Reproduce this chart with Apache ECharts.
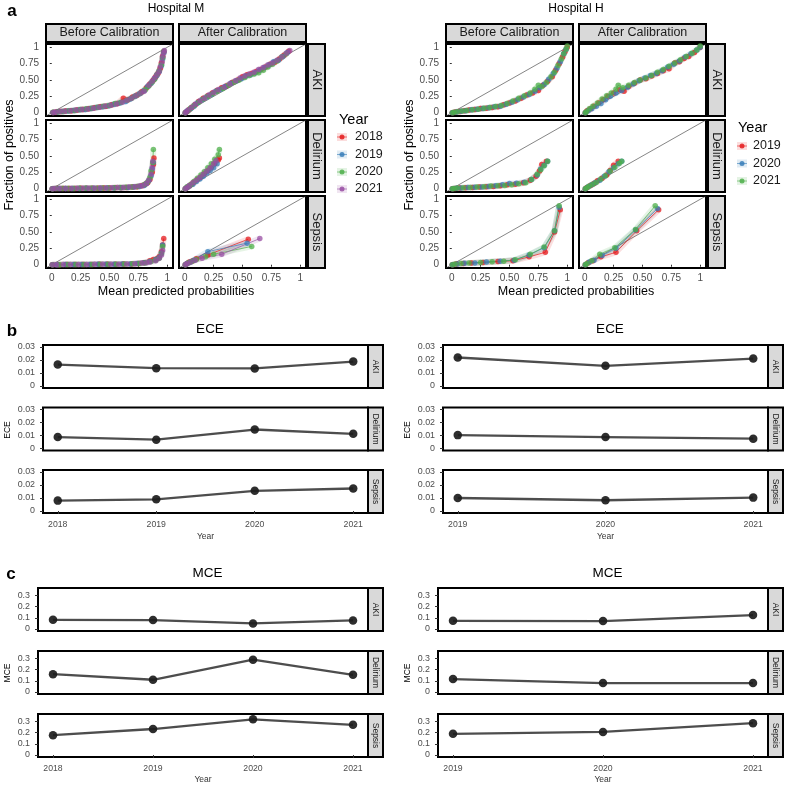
<!DOCTYPE html>
<html><head><meta charset="utf-8">
<script src="https://cdn.jsdelivr.net/npm/echarts@6/dist/echarts.min.js"></script>
<style>html,body{margin:0;padding:0;background:#fff}#c{width:800px;height:800px}</style>
</head><body><div id="c"></div>
<script>
// ---------------- DATA ----------------
const conditions = ['AKI', 'Delirium', 'Sepsis'];
const stages = ['Before Calibration', 'After Calibration'];
const yearsM = [2018, 2019, 2020, 2021];
const yearsH = [2019, 2020, 2021];
const colorsM = ['#E41A1C', '#377EB8', '#4DAF4A', '#984EA3'];
const colorsH = ['#E41A1C', '#377EB8', '#4DAF4A'];
const calTicks = [0, 0.25, 0.5, 0.75, 1];
const calTickLabels = ['0', '0.25', '0.50', '0.75', '1'];
const eceTicks = [0, 0.01, 0.02, 0.03];
const eceTickLabels = ['0', '0.01', '0.02', '0.03'];
const mceTicks = [0, 0.1, 0.2, 0.3];
const mceTickLabels = ['0', '0.1', '0.2', '0.3'];

// Hospital M calibration curves [mean predicted, fraction positive]
const mAkiBefore2018 = [[0.01,0.005],[0.04,0.01],[0.08,0.02],[0.12,0.025],[0.17,0.03],[0.22,0.04],[0.27,0.05],[0.32,0.06],[0.37,0.075],[0.42,0.09],[0.47,0.1],[0.52,0.12],[0.57,0.14],[0.62,0.22],[0.66,0.2],[0.7,0.24],[0.74,0.27],[0.78,0.32],[0.82,0.38],[0.85,0.44],[0.88,0.5],[0.9,0.55],[0.92,0.6],[0.94,0.68],[0.95,0.76],[0.96,0.86],[0.97,0.93]];
const mAkiBefore2019 = [[0.01,0.005],[0.05,0.012],[0.09,0.018],[0.14,0.028],[0.19,0.033],[0.24,0.045],[0.29,0.05],[0.34,0.065],[0.39,0.08],[0.44,0.09],[0.49,0.105],[0.54,0.13],[0.59,0.15],[0.64,0.17],[0.68,0.21],[0.72,0.25],[0.76,0.29],[0.8,0.34],[0.83,0.4],[0.86,0.45],[0.89,0.52],[0.91,0.57],[0.93,0.63],[0.95,0.72],[0.96,0.83],[0.97,0.92]];
const mAkiBefore2020 = [[0.01,0.006],[0.06,0.015],[0.1,0.02],[0.15,0.03],[0.2,0.035],[0.25,0.05],[0.3,0.06],[0.35,0.07],[0.4,0.085],[0.45,0.1],[0.5,0.11],[0.55,0.14],[0.6,0.16],[0.65,0.19],[0.69,0.22],[0.73,0.26],[0.77,0.3],[0.81,0.35],[0.84,0.41],[0.87,0.47],[0.89,0.51],[0.91,0.58],[0.93,0.64],[0.95,0.73],[0.96,0.84],[0.97,0.94]];
const mAkiBefore2021 = [[0.01,0.005],[0.03,0.01],[0.07,0.018],[0.11,0.024],[0.16,0.03],[0.21,0.04],[0.26,0.048],[0.31,0.058],[0.36,0.07],[0.41,0.085],[0.46,0.1],[0.51,0.115],[0.56,0.135],[0.61,0.16],[0.65,0.19],[0.69,0.22],[0.73,0.26],[0.77,0.3],[0.8,0.33],[0.84,0.42],[0.87,0.48],[0.89,0.53],[0.91,0.58],[0.93,0.63],[0.94,0.7],[0.955,0.78],[0.96,0.86],[0.97,0.92],[0.975,0.95]];
const mAkiAfter2018 = [[0.005,0],[0.02,0.02],[0.04,0.05],[0.06,0.08],[0.09,0.12],[0.12,0.17],[0.16,0.22],[0.2,0.26],[0.24,0.3],[0.28,0.34],[0.32,0.38],[0.36,0.41],[0.41,0.46],[0.46,0.5],[0.5,0.55],[0.54,0.58],[0.58,0.6],[0.62,0.63],[0.66,0.66],[0.7,0.7],[0.74,0.74],[0.78,0.77],[0.82,0.82],[0.86,0.88],[0.9,0.94]];
const mAkiAfter2019 = [[0.005,0],[0.02,0.025],[0.05,0.06],[0.08,0.1],[0.11,0.15],[0.15,0.2],[0.19,0.24],[0.23,0.28],[0.27,0.33],[0.31,0.36],[0.35,0.4],[0.4,0.45],[0.45,0.49],[0.49,0.52],[0.53,0.56],[0.57,0.58],[0.61,0.61],[0.65,0.65],[0.69,0.69],[0.73,0.73],[0.77,0.78],[0.81,0.8],[0.85,0.86],[0.89,0.92]];
const mAkiAfter2020 = [[0.005,0],[0.03,0.03],[0.05,0.07],[0.08,0.11],[0.12,0.16],[0.16,0.21],[0.2,0.25],[0.24,0.29],[0.28,0.33],[0.33,0.37],[0.38,0.42],[0.43,0.47],[0.47,0.5],[0.52,0.54],[0.56,0.57],[0.6,0.59],[0.64,0.61],[0.68,0.65],[0.72,0.7],[0.76,0.74],[0.8,0.79],[0.84,0.85],[0.88,0.9]];
const mAkiAfter2021 = [[0.005,0],[0.015,0.015],[0.03,0.04],[0.06,0.08],[0.09,0.13],[0.13,0.18],[0.17,0.22],[0.21,0.27],[0.25,0.31],[0.29,0.35],[0.34,0.39],[0.39,0.44],[0.44,0.49],[0.48,0.53],[0.52,0.56],[0.56,0.59],[0.6,0.62],[0.64,0.66],[0.68,0.69],[0.72,0.73],[0.76,0.76],[0.8,0.8],[0.84,0.85],[0.88,0.91],[0.91,0.95]];
const mDelBefore2018 = [[0.005,0],[0.05,0.002],[0.1,0.003],[0.15,0.004],[0.2,0.005],[0.25,0.006],[0.3,0.007],[0.35,0.008],[0.4,0.009],[0.45,0.01],[0.5,0.012],[0.55,0.014],[0.6,0.016],[0.65,0.02],[0.7,0.025],[0.74,0.03],[0.78,0.045],[0.81,0.07],[0.83,0.09],[0.85,0.14],[0.87,0.25],[0.88,0.37],[0.885,0.47]];
const mDelBefore2019 = [[0.005,0],[0.06,0.002],[0.12,0.003],[0.18,0.004],[0.24,0.005],[0.3,0.006],[0.36,0.007],[0.42,0.009],[0.48,0.01],[0.54,0.012],[0.6,0.015],[0.66,0.02],[0.71,0.025],[0.76,0.035],[0.8,0.05],[0.82,0.08],[0.84,0.12],[0.86,0.2],[0.87,0.3],[0.88,0.4]];
const mDelBefore2020 = [[0.005,0],[0.04,0.002],[0.09,0.003],[0.14,0.004],[0.19,0.005],[0.24,0.006],[0.29,0.007],[0.34,0.008],[0.39,0.009],[0.44,0.011],[0.49,0.013],[0.54,0.015],[0.59,0.018],[0.64,0.022],[0.69,0.027],[0.74,0.035],[0.8,0.06],[0.83,0.1],[0.85,0.17],[0.86,0.27],[0.875,0.4],[0.88,0.6]];
const mDelBefore2021 = [[0.005,0],[0.03,0.002],[0.07,0.003],[0.12,0.004],[0.17,0.005],[0.22,0.006],[0.27,0.007],[0.32,0.008],[0.37,0.009],[0.42,0.01],[0.47,0.012],[0.52,0.014],[0.57,0.017],[0.62,0.02],[0.67,0.025],[0.72,0.03],[0.76,0.04],[0.79,0.05],[0.82,0.08],[0.84,0.13],[0.86,0.22],[0.87,0.32],[0.875,0.42]];
const mDelAfter2018 = [[0.005,0],[0.02,0.02],[0.04,0.04],[0.06,0.07],[0.08,0.1],[0.11,0.14],[0.14,0.18],[0.17,0.23],[0.2,0.27],[0.23,0.32],[0.26,0.38],[0.29,0.44],[0.3,0.47]];
const mDelAfter2019 = [[0.005,0],[0.02,0.02],[0.04,0.04],[0.07,0.07],[0.1,0.11],[0.13,0.15],[0.16,0.19],[0.19,0.24],[0.22,0.28],[0.25,0.32],[0.28,0.38]];
const mDelAfter2020 = [[0.005,0],[0.02,0.03],[0.05,0.06],[0.08,0.11],[0.11,0.16],[0.14,0.21],[0.17,0.26],[0.2,0.32],[0.23,0.38],[0.26,0.45],[0.29,0.52],[0.3,0.6]];
const mDelAfter2021 = [[0.005,0],[0.02,0.02],[0.04,0.05],[0.07,0.09],[0.1,0.13],[0.13,0.17],[0.16,0.22],[0.19,0.27],[0.22,0.32],[0.25,0.38],[0.27,0.43]];
const mSepBefore2018 = [[0.005,0],[0.06,0.001],[0.13,0.002],[0.2,0.003],[0.27,0.004],[0.34,0.005],[0.41,0.006],[0.48,0.007],[0.55,0.008],[0.62,0.01],[0.69,0.013],[0.75,0.02],[0.8,0.03],[0.85,0.06],[0.88,0.08],[0.91,0.09],[0.93,0.12],[0.95,0.2],[0.96,0.3],[0.97,0.4]];
const mSepBefore2019 = [[0.005,0],[0.05,0.001],[0.12,0.002],[0.19,0.003],[0.26,0.004],[0.33,0.005],[0.4,0.006],[0.47,0.007],[0.54,0.008],[0.61,0.01],[0.68,0.012],[0.74,0.018],[0.8,0.03],[0.85,0.05],[0.9,0.08],[0.93,0.11],[0.95,0.18],[0.96,0.3]];
const mSepBefore2020 = [[0.005,0],[0.07,0.001],[0.14,0.002],[0.21,0.003],[0.28,0.004],[0.35,0.005],[0.42,0.006],[0.49,0.007],[0.56,0.008],[0.63,0.01],[0.7,0.014],[0.76,0.02],[0.81,0.03],[0.86,0.05],[0.9,0.07],[0.93,0.1],[0.95,0.17],[0.96,0.28]];
const mSepBefore2021 = [[0.005,0],[0.04,0.001],[0.1,0.002],[0.16,0.003],[0.23,0.004],[0.3,0.005],[0.37,0.006],[0.44,0.007],[0.51,0.008],[0.58,0.009],[0.65,0.011],[0.72,0.016],[0.78,0.025],[0.82,0.03],[0.85,0.04],[0.9,0.06],[0.93,0.1],[0.95,0.15],[0.96,0.22]];
const mSepAfter2018 = [[0.005,0],[0.02,0.02],[0.04,0.04],[0.07,0.06],[0.1,0.09],[0.2,0.15],[0.55,0.39]];
const mSepAfter2019 = [[0.005,0],[0.02,0.02],[0.05,0.04],[0.08,0.07],[0.2,0.2],[0.54,0.33]];
const mSepAfter2020 = [[0.005,0],[0.03,0.03],[0.06,0.05],[0.1,0.08],[0.18,0.12],[0.25,0.16],[0.58,0.28]];
const mSepAfter2021 = [[0.005,0],[0.02,0.02],[0.05,0.04],[0.09,0.07],[0.15,0.1],[0.32,0.16],[0.65,0.4]];

// Hospital H calibration curves
const hAkiBefore2019 = [[0.005,0],[0.03,0.01],[0.07,0.02],[0.11,0.03],[0.15,0.04],[0.2,0.05],[0.25,0.065],[0.3,0.07],[0.35,0.08],[0.4,0.09],[0.45,0.12],[0.5,0.15],[0.55,0.18],[0.6,0.22],[0.65,0.27],[0.7,0.3],[0.75,0.34],[0.79,0.42],[0.83,0.48],[0.87,0.55],[0.9,0.65],[0.93,0.75],[0.96,0.85],[0.98,0.93],[1.0,1.0]];
const hAkiBefore2020 = [[0.005,0],[0.04,0.012],[0.08,0.022],[0.12,0.032],[0.17,0.045],[0.22,0.055],[0.27,0.065],[0.32,0.075],[0.37,0.09],[0.42,0.1],[0.47,0.13],[0.52,0.16],[0.57,0.2],[0.62,0.24],[0.67,0.28],[0.72,0.33],[0.76,0.38],[0.8,0.43],[0.84,0.51],[0.88,0.6],[0.91,0.68],[0.94,0.78],[0.97,0.9],[0.99,0.97]];
const hAkiBefore2021 = [[0.005,0],[0.02,0.008],[0.05,0.015],[0.09,0.025],[0.13,0.035],[0.18,0.045],[0.23,0.055],[0.28,0.07],[0.33,0.08],[0.38,0.095],[0.43,0.11],[0.48,0.14],[0.53,0.18],[0.58,0.22],[0.63,0.26],[0.68,0.3],[0.72,0.36],[0.75,0.42],[0.78,0.4],[0.82,0.46],[0.86,0.55],[0.89,0.62],[0.92,0.72],[0.95,0.82],[0.97,0.9],[0.99,0.97],[1.0,1.02]];
const hAkiAfter2019 = [[0.005,0],[0.02,0.03],[0.05,0.06],[0.08,0.1],[0.12,0.15],[0.16,0.2],[0.2,0.25],[0.25,0.3],[0.3,0.35],[0.34,0.33],[0.38,0.4],[0.43,0.45],[0.48,0.5],[0.53,0.52],[0.58,0.56],[0.63,0.6],[0.68,0.64],[0.73,0.67],[0.78,0.76],[0.82,0.78],[0.86,0.83],[0.9,0.86],[0.95,0.92],[1.0,1.0]];
const hAkiAfter2020 = [[0.005,0],[0.03,0.03],[0.06,0.06],[0.1,0.1],[0.14,0.14],[0.18,0.2],[0.22,0.25],[0.27,0.3],[0.32,0.34],[0.37,0.39],[0.42,0.44],[0.47,0.49],[0.52,0.53],[0.57,0.57],[0.62,0.6],[0.67,0.64],[0.72,0.7],[0.77,0.74],[0.82,0.79],[0.87,0.85],[0.92,0.9],[0.97,0.96],[1.0,1.0]];
const hAkiAfter2021 = [[0.005,0],[0.015,0.02],[0.04,0.06],[0.07,0.1],[0.11,0.15],[0.15,0.21],[0.19,0.26],[0.23,0.3],[0.27,0.36],[0.29,0.42],[0.33,0.38],[0.38,0.42],[0.43,0.46],[0.48,0.5],[0.53,0.53],[0.58,0.57],[0.63,0.62],[0.68,0.66],[0.73,0.71],[0.78,0.76],[0.83,0.81],[0.88,0.86],[0.93,0.91],[0.97,0.96],[1.0,1.02]];
const hDelBefore2019 = [[0.005,0],[0.03,0.005],[0.07,0.01],[0.12,0.015],[0.18,0.02],[0.24,0.025],[0.3,0.03],[0.36,0.035],[0.42,0.045],[0.48,0.06],[0.55,0.07],[0.62,0.09],[0.68,0.13],[0.73,0.19],[0.76,0.27],[0.78,0.37],[0.82,0.42]];
const hDelBefore2020 = [[0.005,0],[0.04,0.006],[0.08,0.012],[0.14,0.017],[0.2,0.022],[0.26,0.027],[0.32,0.033],[0.38,0.045],[0.44,0.06],[0.5,0.08],[0.56,0.085],[0.63,0.1],[0.69,0.14],[0.74,0.21],[0.77,0.3],[0.8,0.36],[0.83,0.42]];
const hDelBefore2021 = [[0.005,0],[0.02,0.005],[0.05,0.01],[0.1,0.015],[0.16,0.02],[0.22,0.027],[0.28,0.032],[0.34,0.04],[0.4,0.045],[0.46,0.05],[0.52,0.06],[0.58,0.075],[0.64,0.09],[0.69,0.14],[0.74,0.22],[0.77,0.29],[0.8,0.35],[0.83,0.42]];
const hDelAfter2019 = [[0.005,0],[0.02,0.02],[0.05,0.05],[0.08,0.08],[0.11,0.12],[0.15,0.16],[0.19,0.21],[0.22,0.28],[0.25,0.36],[0.29,0.42]];
const hDelAfter2020 = [[0.005,0],[0.03,0.03],[0.06,0.06],[0.09,0.09],[0.13,0.13],[0.17,0.19],[0.21,0.26],[0.25,0.32],[0.29,0.38],[0.32,0.42]];
const hDelAfter2021 = [[0.005,0],[0.02,0.02],[0.04,0.04],[0.07,0.07],[0.1,0.1],[0.14,0.15],[0.18,0.2],[0.22,0.27],[0.26,0.33],[0.3,0.39],[0.32,0.42]];
const hSepBefore2019 = [[0.005,0],[0.04,0.01],[0.1,0.02],[0.17,0.025],[0.27,0.035],[0.4,0.05],[0.53,0.06],[0.67,0.12],[0.81,0.19],[0.89,0.5],[0.94,0.84]];
const hSepBefore2020 = [[0.005,0],[0.05,0.012],[0.11,0.022],[0.2,0.028],[0.3,0.04],[0.42,0.055],[0.54,0.07],[0.67,0.15],[0.8,0.26],[0.89,0.52],[0.93,0.88]];
const hSepBefore2021 = [[0.005,0],[0.03,0.01],[0.08,0.02],[0.15,0.025],[0.25,0.035],[0.35,0.045],[0.45,0.055],[0.55,0.075],[0.68,0.16],[0.8,0.27],[0.89,0.52],[0.93,0.9]];
const hSepAfter2019 = [[0.005,0],[0.03,0.03],[0.07,0.06],[0.14,0.12],[0.27,0.19],[0.45,0.52],[0.64,0.84]];
const hSepAfter2020 = [[0.005,0],[0.04,0.04],[0.08,0.07],[0.15,0.14],[0.27,0.25],[0.44,0.53],[0.63,0.86]];
const hSepAfter2021 = [[0.005,0],[0.02,0.02],[0.06,0.06],[0.13,0.16],[0.26,0.26],[0.44,0.54],[0.61,0.9]];

// ECE / MCE by year
const eceM_AKI = [0.0165, 0.0137, 0.0135, 0.0188];
const eceM_Delirium = [0.0088, 0.0068, 0.0146, 0.0113];
const eceM_Sepsis = [0.0080, 0.0090, 0.0155, 0.0173];
const eceH_AKI = [0.0219, 0.0155, 0.0211];
const eceH_Delirium = [0.0103, 0.0088, 0.0076];
const eceH_Sepsis = [0.0100, 0.0083, 0.0103];
const mceM_AKI = [0.083, 0.080, 0.050, 0.077];
const mceM_Delirium = [0.160, 0.110, 0.290, 0.154];
const mceM_Sepsis = [0.178, 0.233, 0.320, 0.271];
const mceH_AKI = [0.074, 0.071, 0.125];
const mceH_Delirium = [0.116, 0.080, 0.080];
const mceH_Sepsis = [0.190, 0.207, 0.285];

// ---------------- BUILD ----------------
const FONT = 'Liberation Sans';
const AXC = '#4d4d4d';
const grids = [], xAxes = [], yAxes = [], series = [], graphics = [];

function addGrid(l, t, w, h) {
  grids.push({left: l, top: t, width: w, height: h, show: true, borderColor: '#000', borderWidth: 2, backgroundColor: '#fff'});
  return grids.length - 1;
}
function txt(x, y, text, size, opts) {
  opts = opts || {};
  graphics.push({type: 'text', x: x, y: y, rotation: opts.rot || 0, z: 100,
    style: {text: text, fontSize: size, fontFamily: FONT, fontWeight: opts.bold ? 'bold' : 'normal',
      fill: opts.color || '#000', align: opts.align || 'center', verticalAlign: 'middle'}});
}
function strip(x, y, w, h, text, size, vertical) {
  graphics.push({type: 'rect', z: 90, shape: {x: x, y: y, width: w, height: h},
    style: {fill: '#d9d9d9', stroke: '#000', lineWidth: 2}});
  txt(x + w / 2, y + h / 2, text, size, {rot: vertical ? -Math.PI / 2 : 0, color: '#1a1a1a'});
}
function labFmt(ticks, labels) {
  return function (v) { for (let i = 0; i < ticks.length; i++) if (Math.abs(ticks[i] - v) < 1e-9) return labels[i]; return ''; };
}

function calibrationBlock(ox, hospital, years, colors, data) {
  const lefts = [ox + 46, ox + 179];
  const tops = [44, 120, 196];
  const W = 127, H = 72;
  for (let r = 0; r < 3; r++) {
    for (let c = 0; c < 2; c++) {
      const gi = addGrid(lefts[c], tops[r], W, H);
      xAxes.push({type: 'value', gridIndex: gi, min: -0.05, max: 1.05,
        axisLine: {show: false}, splitLine: {show: false},
        axisTick: {show: r === 2, customValues: calTicks, length: 2, lineStyle: {color: '#333'}},
        axisLabel: {show: r === 2, customValues: calTicks, formatter: labFmt(calTicks, calTickLabels),
          fontSize: 10, fontFamily: FONT, color: AXC, margin: 5}});
      yAxes.push({type: 'value', gridIndex: gi, min: -0.05, max: 1.05,
        axisLine: {show: false}, splitLine: {show: false},
        axisTick: {show: c === 0, customValues: calTicks, length: 2, lineStyle: {color: '#333'}},
        axisLabel: {show: c === 0, customValues: calTicks, formatter: labFmt(calTicks, calTickLabels),
          fontSize: 10, fontFamily: FONT, color: AXC, margin: 7}});
      series.push({type: 'line', xAxisIndex: gi, yAxisIndex: gi, data: [[-0.05, -0.05], [1.05, 1.05]],
        symbol: 'none', silent: true, lineStyle: {color: '#333', width: 0.6}, z: 1});
      const sets = data[r][c];
      for (let k = 0; k < years.length; k++) {
        series.push({type: 'line', xAxisIndex: gi, yAxisIndex: gi, data: sets[k], symbol: 'none', silent: true,
          lineStyle: {color: colors[k], width: 6, opacity: 0.14}, z: 2});
      }
      for (let k = 0; k < years.length; k++) {
        series.push({type: 'line', name: String(years[k]), xAxisIndex: gi, yAxisIndex: gi, data: sets[k],
          symbol: 'circle', symbolSize: 5.5, showSymbol: true,
          itemStyle: {color: colors[k], opacity: 0.75}, lineStyle: {color: colors[k], width: 1, opacity: 0.7}, z: 3});
      }
    }
  }
  strip(lefts[0], 24, W, 18, stages[0], 12.5, false);
  strip(lefts[1], 24, W, 18, stages[1], 12.5, false);
  for (let r = 0; r < 3; r++) strip(ox + 308, tops[r], 17, H, conditions[r], 13, true);
  txt(ox + 176, 9, hospital, 12);
  txt(ox + 10, 155, 'Fraction of positives', 12.5, {rot: Math.PI / 2});
  txt(ox + 176, 292, 'Mean predicted probabilities', 12.5);
}

function legendBlock(x, yTitle, ys, years, colors, keyX, labX) {
  txt(x, yTitle, 'Year', 14.5, {align: 'left'});
  for (let k = 0; k < years.length; k++) {
    graphics.push({type: 'rect', z: 95, shape: {x: keyX - 5, y: ys[k] - 4, width: 10, height: 8},
      style: {fill: colors[k], opacity: 0.15}});
    graphics.push({type: 'line', z: 96, shape: {x1: keyX - 5, y1: ys[k], x2: keyX + 5, y2: ys[k]},
      style: {stroke: colors[k], lineWidth: 1, opacity: 0.6}});
    graphics.push({type: 'circle', z: 97, shape: {cx: keyX, cy: ys[k], r: 2.5}, style: {fill: colors[k], opacity: 0.85}});
    txt(labX, ys[k], String(years[k]), 12.5, {align: 'left', color: '#1a1a1a'});
  }
}

function errorBlock(ox, left, width, tops, years, vals, ticks, tickLabels, yMin, yMax, title, titleY, yName, yNameY, labelY) {
  const span = years[years.length - 1] - years[0];
  const xMin = years[0] - 0.05 * span, xMax = years[years.length - 1] + 0.05 * span;
  for (let r = 0; r < 3; r++) {
    const gi = addGrid(left, tops[r], width, 43);
    xAxes.push({type: 'value', gridIndex: gi, min: xMin, max: xMax,
      axisLine: {show: false}, splitLine: {show: false},
      axisTick: {show: r === 2, customValues: years, length: 3, lineStyle: {color: '#333'}},
      axisLabel: {show: r === 2, customValues: years, formatter: function (v) { return String(Math.round(v)); },
        fontSize: 8.7, fontFamily: FONT, color: AXC, margin: 7}});
    yAxes.push({type: 'value', gridIndex: gi, min: yMin, max: yMax,
      axisLine: {show: false}, splitLine: {show: false},
      axisTick: {show: true, customValues: ticks, length: 3, lineStyle: {color: '#333'}},
      axisLabel: {show: true, customValues: ticks, formatter: labFmt(ticks, tickLabels),
        fontSize: 8.9, fontFamily: FONT, color: AXC, margin: 8}});
    series.push({type: 'line', xAxisIndex: gi, yAxisIndex: gi,
      data: years.map(function (y, i) { return [y, vals[r][i]]; }),
      symbol: 'circle', symbolSize: 8.5, itemStyle: {color: '#1c1c1c', opacity: 0.92},
      lineStyle: {color: '#3a3a3a', width: 2.3, opacity: 0.9}, z: 3});
    strip(left + width, tops[r], 15, 43, conditions[r], 8.5, true);
  }
  txt(left + (width + 15) / 2 - 3, titleY, title, 13.5);
  txt(ox + 8, yNameY, yName, 8.5, {rot: Math.PI / 2});
  txt(left + width / 2, labelY, 'Year', 8.5, {color: '#333'});
}

const calM = [
  [[mAkiBefore2018, mAkiBefore2019, mAkiBefore2020, mAkiBefore2021], [mAkiAfter2018, mAkiAfter2019, mAkiAfter2020, mAkiAfter2021]],
  [[mDelBefore2018, mDelBefore2019, mDelBefore2020, mDelBefore2021], [mDelAfter2018, mDelAfter2019, mDelAfter2020, mDelAfter2021]],
  [[mSepBefore2018, mSepBefore2019, mSepBefore2020, mSepBefore2021], [mSepAfter2018, mSepAfter2019, mSepAfter2020, mSepAfter2021]]
];
const calH = [
  [[hAkiBefore2019, hAkiBefore2020, hAkiBefore2021], [hAkiAfter2019, hAkiAfter2020, hAkiAfter2021]],
  [[hDelBefore2019, hDelBefore2020, hDelBefore2021], [hDelAfter2019, hDelAfter2020, hDelAfter2021]],
  [[hSepBefore2019, hSepBefore2020, hSepBefore2021], [hSepAfter2019, hSepAfter2020, hSepAfter2021]]
];

calibrationBlock(0, 'Hospital M', yearsM, colorsM, calM);
calibrationBlock(400, 'Hospital H', yearsH, colorsH, calH);
legendBlock(339, 120, [137, 154.5, 172, 189], yearsM, colorsM, 342, 355);
legendBlock(738, 128, [146, 163.5, 181], yearsH, colorsH, 742, 753);

const eceTops = [345, 407.5, 470];
const mceTops = [588, 651, 714];
errorBlock(0, 43, 325, eceTops, yearsM, [eceM_AKI, eceM_Delirium, eceM_Sepsis], eceTicks, eceTickLabels, -0.0015, 0.0315, 'ECE', 329, 'ECE', 430, 537);
errorBlock(400, 443, 325, eceTops, yearsH, [eceH_AKI, eceH_Delirium, eceH_Sepsis], eceTicks, eceTickLabels, -0.0015, 0.0315, 'ECE', 329, 'ECE', 430, 537);
errorBlock(0, 38, 330, mceTops, yearsM, [mceM_AKI, mceM_Delirium, mceM_Sepsis], mceTicks, mceTickLabels, -0.0175, 0.3675, 'MCE', 573, 'MCE', 673, 780);
errorBlock(400, 438, 330, mceTops, yearsH, [mceH_AKI, mceH_Delirium, mceH_Sepsis], mceTicks, mceTickLabels, -0.0175, 0.3675, 'MCE', 573, 'MCE', 673, 780);

txt(12, 11, 'a', 17, {bold: true});
txt(12, 331, 'b', 17, {bold: true});
txt(11, 574, 'c', 17, {bold: true});

const chart = echarts.init(document.getElementById('c'), null, {renderer: 'canvas'});
chart.setOption({
  animation: false,
  backgroundColor: '#fff',
  grid: grids, xAxis: xAxes, yAxis: yAxes, series: series, graphic: graphics
});
</script></body></html>
